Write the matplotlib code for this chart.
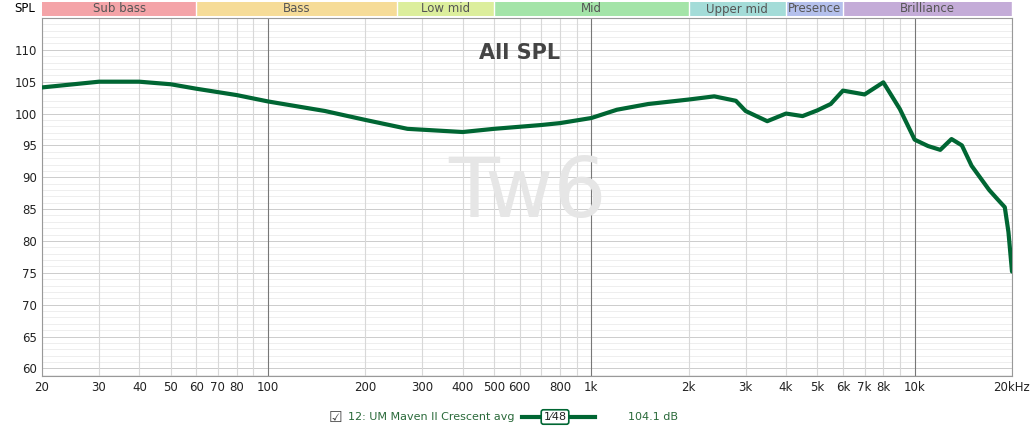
import matplotlib
matplotlib.use("Agg")
import matplotlib.pyplot as plt
import numpy as np

freqs = [20,30,40,50,60,80,100,150,200,270,400,500,700,800,1000,1200,1500,2000,2400,2800,3000,3500,4000,4500,5000,5500,6000,7000,8000,9000,10000,11000,12000,13000,14000,15000,17000,18000,19000,19500,20000]
spl = [104.1,105.0,105.0,104.6,103.9,102.9,101.9,100.4,99.0,97.6,97.1,97.6,98.2,98.5,99.3,100.6,101.5,102.2,102.7,102.0,100.4,98.8,100.0,99.6,100.5,101.5,103.6,103.0,104.9,100.7,95.9,94.9,94.3,96.0,95.0,91.8,88.0,86.6,85.3,81.4,75.2]

bands = [("Sub bass",20,60,"#f4a4a8"),("Bass",60,250,"#f6dc98"),("Low mid",250,500,"#dcee9c"),
         ("Mid",500,2000,"#a4e4a8"),("Upper mid",2000,4000,"#a4dcd8"),("Presence",4000,6000,"#b4c0ec"),
         ("Brilliance",6000,20000,"#c4acd8")]
xticks = [20,30,40,50,60,70,80,100,200,300,400,500,600,800,1000,2000,3000,4000,5000,6000,7000,8000,10000,20000]
xlabels = ["20","30","40","50","60","70","80","100","200","300","400","500","600","800","1k","2k","3k","4k","5k","6k","7k","8k","10k","20kHz"]

fig = plt.figure(figsize=(10.33,4.32), dpi=100)
L, R = 42/1033, 1012/1033
ax = fig.add_axes([L, 1-376/432, R-L, (376-18)/432])
bx = fig.add_axes([L, 1-16/432, R-L, 14/432])

for name,a,b,c in bands:
    bx.axvspan(a,b,color=c,lw=0)
    bx.axvline(b,color="white",lw=1)
    bx.text(np.sqrt(a*b),0.5,name,ha="center",va="center",fontsize=8.5,color="#555555")
bx.set_xscale("log"); bx.set_xlim(20,20000); bx.set_ylim(0,1)
bx.axis("off")
fig.text(14/1033, 1-9/432, "SPL", fontsize=8.5, va="center", ha="left")

ax.set_xscale("log"); ax.set_xlim(20,20000); ax.set_ylim(58.8,115)
for y in range(59,116):
    ax.axhline(y,color="#cccccc" if y%5==0 else "#eeeeee",lw=0.7,zorder=0)
minor = [m*10**e for e in range(1,5) for m in range(1,10) if 20<=m*10**e<=20000]
for f in minor:
    dec = f in (100,1000,10000)
    ax.axvline(f,color="#777777" if dec else "#d8d8d8",lw=0.8,zorder=1)
ax.set_yticks(range(60,115,5))
ax.set_xticks(xticks); ax.set_xticklabels(xlabels)
ax.minorticks_off()
ax.tick_params(labelsize=8.5,length=0,colors="#222222")
for s in ax.spines.values(): s.set_color("#999999")
ax.text(np.sqrt(20*20000)*0.95,108.5,"All SPL",ha="center",fontsize=15,fontweight="bold",color="#444444")
ax.text(np.sqrt(20*20000),87.5,"Tw6",ha="center",va="center",fontsize=60,color="#e6e6e6",zorder=1)
ax.plot(freqs,spl,color="#006633",lw=3,solid_capstyle="round",zorder=5)

fig.text(335/1033,1-417/432,"☑",fontsize=11,va="center",ha="center",color="#444444")
fig.text(348/1033,1-417/432,"12: UM Maven II Crescent avg",fontsize=8,va="center",color="#2a6a3a")
fig.add_artist(plt.Line2D([522/1033,595/1033],[1-417/432]*2,color="#006633",lw=3))
fig.text(555/1033,1-417/432,"1⁄48",fontsize=8,va="center",ha="center",color="#222222",
         bbox=dict(boxstyle="round,pad=0.2",fc="white",ec="#006633",lw=1.2))
fig.text(628/1033,1-417/432,"104.1 dB",fontsize=8,va="center",color="#2a6a3a")
fig.savefig("out.png",dpi=100,facecolor="white")
